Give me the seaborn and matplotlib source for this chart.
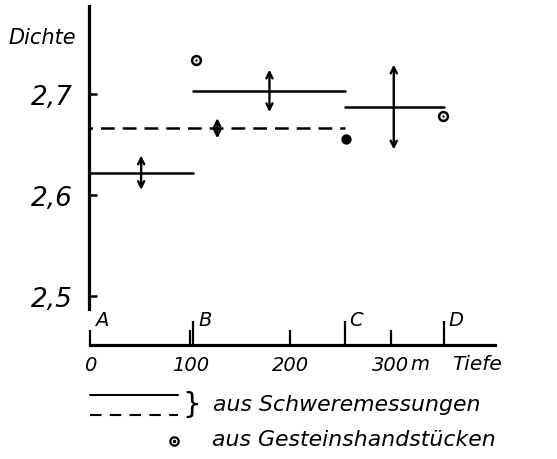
import numpy as np
import pandas as pd
import matplotlib
matplotlib.use("Agg")
import matplotlib.pyplot as plt
from matplotlib.lines import Line2D
import seaborn as sns

# ---- data ----
seg_start = [0, 103, 254]
seg_end = [103, 254, 353]
seg_density = [2.622, 2.703, 2.687]
seg_err_depth = [51, 179, 303]
seg_err = [0.017, 0.021, 0.042]

mean_start = [0]
mean_end = [254]
mean_density = [2.666]
mean_err_depth = [127]
mean_err = [0.010]

hand_depth = [106, 352]
hand_density = [2.734, 2.678]
dot_depth = [255]
dot_density = [2.655]

boundary_depth = [0, 103, 254, 353]
boundary_labels = ["A", "B", "C", "D"]
depth_ticks = [0, 100, 200, 300]
depth_ticklabels = ["0", "100", "200", "300"]
density_ticks = [2.5, 2.6, 2.7]
density_ticklabels = ["2,5", "2,6", "2,7"]

sns.set_theme(style="white")
plt.rcParams["font.family"] = ["DejaVu Sans"]
plt.rcParams["font.style"] = "oblique"
for k in ["text.color", "axes.labelcolor", "xtick.color", "ytick.color", "axes.edgecolor"]:
    plt.rcParams[k] = "black"

W, H = 557, 460
fig = plt.figure(figsize=(W / 100, H / 100), dpi=100)
fig.patch.set_facecolor("white")

IT = dict(style="oblique", color="black")


def fx(px):
    return px / W


def fy(py):
    return 1 - py / H


ax = fig.add_axes([fx(89), fy(346), fx(495) - fx(89), fy(7) - fy(346)])
ax.set_facecolor("white")

rows = []
for i, (s, e, d) in enumerate(zip(seg_start, seg_end, seg_density)):
    rows += [dict(x=s, y=d, seg=f"s{i}", kind="solid"), dict(x=e, y=d, seg=f"s{i}", kind="solid")]
for i, (s, e, d) in enumerate(zip(mean_start, mean_end, mean_density)):
    rows += [dict(x=s, y=d, seg=f"m{i}", kind="dashed"), dict(x=e, y=d, seg=f"m{i}", kind="dashed")]
df = pd.DataFrame(rows)

sns.lineplot(data=df[df.kind == "solid"], x="x", y="y", units="seg", estimator=None,
             color="black", lw=1.8, legend=False, sort=False, ax=ax)
sns.lineplot(data=df[df.kind == "dashed"], x="x", y="y", units="seg", estimator=None,
             color="black", lw=1.8, legend=False, sort=False, ax=ax,
             linestyle=(4.5, (5.5, 3.2)))

for xd, v, e in zip(seg_err_depth + mean_err_depth, seg_density + mean_density, seg_err + mean_err):
    ax.annotate("", xy=(xd, v - e), xytext=(xd, v + e),
                arrowprops=dict(arrowstyle="<->", lw=1.7, color="black",
                                shrinkA=0, shrinkB=0, mutation_scale=11))

sns.scatterplot(x=hand_depth, y=hand_density, marker="o", s=40, facecolor="white",
                edgecolor="black", linewidth=1.8, ax=ax, zorder=5)
sns.scatterplot(x=hand_depth, y=hand_density, marker="o", s=3, color="black",
                linewidth=0, ax=ax, zorder=6)
sns.scatterplot(x=dot_depth, y=dot_density, marker="o", s=55, color="black",
                linewidth=0, ax=ax, zorder=5)

ax.set_xlim(-1, 404)
ax.set_ylim(2.4515, 2.787)
ax.set_xlabel("")
ax.set_ylabel("")

for side in ["top", "right"]:
    ax.spines[side].set_visible(False)
ax.spines["left"].set_bounds(2.487, 2.787)
ax.spines["bottom"].set_bounds(0, 404)
for side in ["left", "bottom"]:
    ax.spines[side].set_linewidth(2.3)
    ax.spines[side].set_color("black")

ax.set_yticks(density_ticks)
ax.set_yticklabels(density_ticklabels, fontsize=19, **IT)
ax.tick_params(axis="y", direction="in", length=6, width=1.8, color="black", pad=12, left=True)

ax.set_xticks(depth_ticks)
ax.set_xticklabels(depth_ticklabels, fontsize=14, **IT)
ax.set_xticks(boundary_depth, minor=True)
ax.tick_params(axis="x", which="major", direction="in", length=11, width=1.6,
               color="black", pad=7, bottom=True)
ax.tick_params(axis="x", which="minor", direction="in", length=17, width=1.6,
               color="black", bottom=True)

for xd, lab in zip(boundary_depth, boundary_labels):
    ax.annotate(lab, xy=(xd, 0), xycoords=("data", "axes fraction"),
                xytext=(5, 25), textcoords="offset pixels",
                fontsize=14, ha="left", va="center", **IT)

fig.text(fx(8), fy(37.5), "Dichte", fontsize=15, ha="left", va="center", **IT)
fig.text(fx(410), fy(365), "m", fontsize=14, ha="left", va="center", **IT)
fig.text(fx(452), fy(365), "Tiefe", fontsize=14.5, ha="left", va="center", **IT)

# legend
fig.add_artist(Line2D([fx(90), fx(178)], [fy(396), fy(396)], color="black", lw=1.5,
                      transform=fig.transFigure))
fig.add_artist(Line2D([fx(90), fx(178)], [fy(416), fy(416)], color="black", lw=1.5,
                      linestyle=(0, (5.5, 4.0)), transform=fig.transFigure))
fig.text(fx(192), fy(405), "}", fontsize=21, style="normal", color="black",
         ha="center", va="center")
fig.text(fx(213), fy(405), "aus Schweremessungen", fontsize=15.8,
         ha="left", va="center", **IT)
fig.add_artist(Line2D([fx(174)], [fy(442)], marker="o", ms=6, mfc="white", mec="black",
                      mew=1.6, transform=fig.transFigure))
fig.add_artist(Line2D([fx(174)], [fy(442)], marker="o", ms=1.5, color="black",
                      transform=fig.transFigure))
fig.text(fx(212), fy(440), "aus Gesteinshandstücken", fontsize=15.8,
         ha="left", va="center", **IT)

fig.savefig("out.png", dpi=100, facecolor="white")
